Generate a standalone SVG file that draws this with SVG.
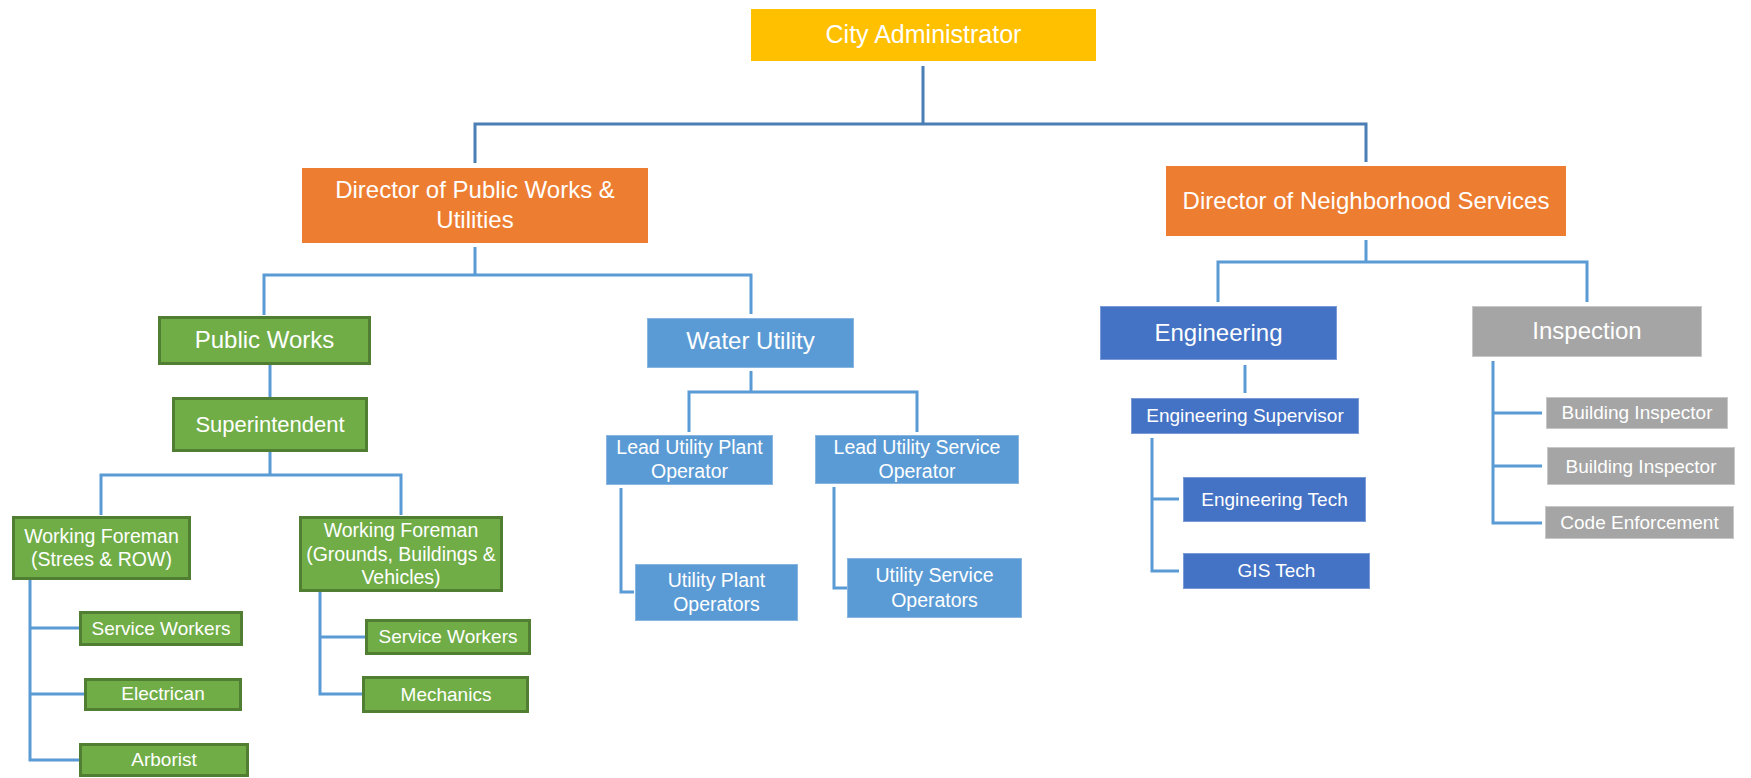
<svg xmlns="http://www.w3.org/2000/svg" width="1751" height="778" viewBox="0 0 1751 778">
<style>
text{font-family:"Liberation Sans",Arial,sans-serif;fill:#FFFFFF;text-anchor:middle}
.gold{fill:#FFC000}
.orange{fill:#ED7D31}
.green{fill:#70AD47;stroke:#507E32;stroke-width:3}
.lblue{fill:#5B9BD5;stroke:#8AB5E0;stroke-width:1}
.dblue{fill:#4472C4;stroke:#7A9BD6;stroke-width:1}
.gray{fill:#A5A5A5;stroke:#C8C8C8;stroke-width:1}
.conn{fill:none;stroke:#5B9BD5;stroke-width:3}
.conn-top{fill:none;stroke:#4A7EB5;stroke-width:3}
.f25{font-size:25px}.f24{font-size:24px}.f22{font-size:22px}.f19{font-size:19.5px}.f19s{font-size:19px}
</style>
<rect width="1751" height="778" fill="#FFFFFF"/>
<g id="connectors">
<path class="conn-top" d="M923,66 V124 M475,163 V124 H1366 V162"/>
<path class="conn" d="M475,247 V275 M264,315 V275 H751 V314"/>
<path class="conn" d="M270,365 V397"/>
<path class="conn" d="M270,452 V475 M101,515 V475 H401 V515"/>
<path class="conn" d="M30,580 V760 H79 M30,628 H79 M30,694 H84"/>
<path class="conn" d="M320,592 V694 H362 M320,637 H365"/>
<path class="conn" d="M751,371 V392 M689,432 V392 H917 V432"/>
<path class="conn" d="M621,488 V592 H634"/>
<path class="conn" d="M834,487 V588 H847"/>
<path class="conn" d="M1366,240 V262 M1218,302 V262 H1587 V302"/>
<path class="conn" d="M1245,365 V393"/>
<path class="conn" d="M1152,438 V571 H1179 M1152,499 H1179"/>
<path class="conn" d="M1493,361 V523 H1542 M1493,413 H1542 M1493,466 H1542"/>
</g>
<g id="city-administrator"><rect class="gold" x="751" y="9" width="345" height="52"/><text class="f25" x="923.5" y="43">City Administrator</text></g>
<g id="director-public-works"><rect class="orange" x="302" y="168" width="346" height="75"/><text class="f24" x="475" y="198">Director of Public Works &amp;</text><text class="f24" x="475" y="228">Utilities</text></g>
<g id="director-neighborhood"><rect class="orange" x="1166" y="166" width="400" height="70"/><text class="f24" x="1366" y="209">Director of Neighborhood Services</text></g>
<g id="public-works"><rect class="green" x="159.5" y="317.5" width="210" height="46"/><text class="f24" x="264.5" y="348">Public Works</text></g>
<g id="water-utility"><rect class="lblue" x="647.5" y="318.5" width="206" height="49"/><text class="f24" x="750.5" y="349">Water Utility</text></g>
<g id="superintendent"><rect class="green" x="173.5" y="398.5" width="193" height="52"/><text class="f22" x="270" y="432">Superintendent</text></g>
<g id="working-foreman-streets"><rect class="green" x="13.5" y="517.5" width="176" height="61"/><text class="f19" x="101.5" y="543">Working Foreman</text><text class="f19" x="101.5" y="566">(Strees &amp; ROW)</text></g>
<g id="working-foreman-grounds"><rect class="green" x="300.5" y="517.5" width="201" height="73"/><text class="f19" x="401" y="537">Working Foreman</text><text class="f19" x="401" y="561">(Grounds, Buildings &amp;</text><text class="f19" x="401" y="584">Vehicles)</text></g>
<g id="service-workers-1"><rect class="green" x="80.5" y="612.5" width="161" height="32"/><text class="f19s" x="161" y="635">Service Workers</text></g>
<g id="electrican"><rect class="green" x="85.5" y="679.5" width="155" height="30"/><text class="f19s" x="163" y="700">Electrican</text></g>
<g id="arborist"><rect class="green" x="80.5" y="744.5" width="167" height="31"/><text class="f19s" x="164" y="766">Arborist</text></g>
<g id="service-workers-2"><rect class="green" x="366.5" y="620.5" width="163" height="33"/><text class="f19s" x="448" y="643">Service Workers</text></g>
<g id="mechanics"><rect class="green" x="363.5" y="677.5" width="164" height="34"/><text class="f19s" x="446" y="701">Mechanics</text></g>
<g id="lead-utility-plant-operator"><rect class="lblue" x="606.5" y="435.5" width="166" height="49"/><text class="f19" x="689.5" y="454">Lead Utility Plant</text><text class="f19" x="689.5" y="478">Operator</text></g>
<g id="lead-utility-service-operator"><rect class="lblue" x="815.5" y="435.5" width="203" height="48"/><text class="f19" x="917" y="454">Lead Utility Service</text><text class="f19" x="917" y="478">Operator</text></g>
<g id="utility-plant-operators"><rect class="lblue" x="635.5" y="564.5" width="162" height="56"/><text class="f19" x="716.5" y="587">Utility Plant</text><text class="f19" x="716.5" y="611">Operators</text></g>
<g id="utility-service-operators"><rect class="lblue" x="847.5" y="558.5" width="174" height="59"/><text class="f19" x="934.5" y="582">Utility Service</text><text class="f19" x="934.5" y="607">Operators</text></g>
<g id="engineering"><rect class="dblue" x="1100.5" y="306.5" width="236" height="53"/><text class="f24" x="1218.5" y="341">Engineering</text></g>
<g id="inspection"><rect class="gray" x="1472.5" y="306.5" width="229" height="50"/><text class="f24" x="1587" y="339">Inspection</text></g>
<g id="engineering-supervisor"><rect class="dblue" x="1131.5" y="398.5" width="227" height="35"/><text class="f19s" x="1245" y="422">Engineering Supervisor</text></g>
<g id="engineering-tech"><rect class="dblue" x="1183.5" y="477.5" width="182" height="44"/><text class="f19s" x="1274.5" y="506">Engineering Tech</text></g>
<g id="gis-tech"><rect class="dblue" x="1183.5" y="553.5" width="186" height="35"/><text class="f19s" x="1276.5" y="577">GIS Tech</text></g>
<g id="building-inspector-1"><rect class="gray" x="1546.5" y="397.5" width="181" height="31"/><text class="f19s" x="1637" y="419">Building Inspector</text></g>
<g id="building-inspector-2"><rect class="gray" x="1547.5" y="447.5" width="187" height="37"/><text class="f19s" x="1641" y="473">Building Inspector</text></g>
<g id="code-enforcement"><rect class="gray" x="1545.5" y="506.5" width="188" height="32"/><text class="f19s" x="1639.5" y="529">Code Enforcement</text></g>
</svg>
